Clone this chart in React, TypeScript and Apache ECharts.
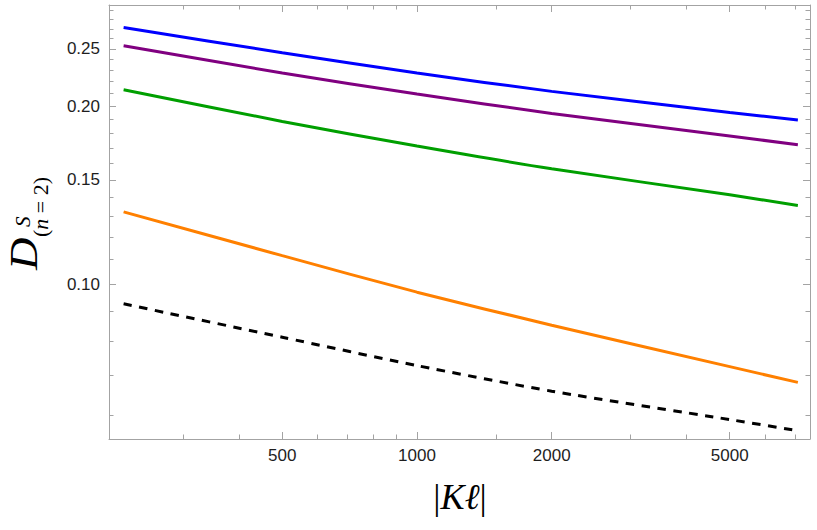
import React, { useEffect, useRef } from "react";
import * as echarts from "echarts";

// |K l| sample positions (log axis) and D^S_(n=2) values
const xValues = [221, 500, 1000, 2000, 5000, 7100];
const blueValues = [0.2717, 0.2462, 0.2275, 0.2118, 0.1951, 0.1894];
const purpleValues = [0.253, 0.2275, 0.2096, 0.1944, 0.178, 0.1721];
const greenValues = [0.2132, 0.1884, 0.1712, 0.1567, 0.1416, 0.1358];
const orangeValues = [0.1325, 0.1117, 0.0969, 0.0852, 0.0725, 0.0682];
const blackDashedValues = [0.0926, 0.0813, 0.0728, 0.0659, 0.059, 0.0565];

const xMajorTicks = [500, 1000, 2000, 5000];
const xMinorTicks = [300, 400, 600, 700, 800, 900, 1500, 3000, 4000, 6000, 7000];
const yMajorTicks = [0.1, 0.15, 0.2, 0.25];
const yMinorTicks = [
  0.06, 0.07, 0.08, 0.09, 0.11, 0.12, 0.13, 0.14, 0.16, 0.17, 0.18, 0.19,
  0.21, 0.22, 0.23, 0.24, 0.26, 0.27, 0.28, 0.29,
];
const xRange = [205, 7557];
const yRange = [0.0547, 0.2965];

const FRAME = "#a3a3a3";
const LABEL = "#1e1e1e";
const SANS = '"Liberation Sans", Arial, sans-serif';
const SERIF = '"Liberation Serif", "DejaVu Serif", serif';

function xAxisDef(position: string, ticks: number[], len: number, line: boolean, label: boolean) {
  return {
    type: "log",
    logBase: 10,
    min: xRange[0],
    max: xRange[1],
    position,
    axisLine: { show: line, lineStyle: { color: FRAME, width: 1 } },
    axisTick: { show: true, inside: true, length: len, customValues: ticks, lineStyle: { color: FRAME, width: 1 } },
    axisLabel: label
      ? {
          show: true,
          customValues: ticks,
          margin: 8,
          color: LABEL,
          fontFamily: SANS,
          fontSize: 17,
          formatter: (v: number) => String(Math.round(v)),
        }
      : { show: false },
    splitLine: { show: false },
    minorTick: { show: false },
    minorSplitLine: { show: false },
  };
}

function yAxisDef(position: string, ticks: number[], len: number, line: boolean, label: boolean) {
  return {
    type: "log",
    logBase: 10,
    min: yRange[0],
    max: yRange[1],
    position,
    axisLine: { show: line, lineStyle: { color: FRAME, width: 1 } },
    axisTick: { show: true, inside: true, length: len, customValues: ticks, lineStyle: { color: FRAME, width: 1 } },
    axisLabel: label
      ? {
          show: true,
          customValues: ticks,
          margin: 9,
          color: LABEL,
          fontFamily: SANS,
          fontSize: 17,
          formatter: (v: number) => v.toFixed(2),
        }
      : { show: false },
    splitLine: { show: false },
    minorTick: { show: false },
    minorSplitLine: { show: false },
  };
}

function lineSeries(name: string, vals: number[], color: string, dashed: boolean) {
  return {
    name,
    type: "line",
    xAxisIndex: 0,
    yAxisIndex: 0,
    data: xValues.map((x, i) => [x, vals[i]]),
    symbol: "none",
    showSymbol: false,
    smooth: 0.25,
    lineStyle: { color, width: 3, type: dashed ? [8.5, 7.5] : "solid", cap: "butt" },
    silent: true,
  };
}

export default function App() {
  const ref = useRef<HTMLDivElement>(null);
  useEffect(() => {
    const chart = echarts.init(ref.current!, null, { renderer: "svg" });
    const option: any = {
      animation: false,
      backgroundColor: "#ffffff",
      grid: { left: 109, top: 5, right: 7, bottom: 91, containLabel: false },
      xAxis: [
        xAxisDef("bottom", xMajorTicks, 7, true, true),
        xAxisDef("bottom", xMinorTicks, 4.5, false, false),
        xAxisDef("top", xMajorTicks, 7, true, false),
        xAxisDef("top", xMinorTicks, 4.5, false, false),
      ],
      yAxis: [
        yAxisDef("left", yMajorTicks, 7, true, true),
        yAxisDef("left", yMinorTicks, 4.5, false, false),
        yAxisDef("right", yMajorTicks, 7, true, false),
        yAxisDef("right", yMinorTicks, 4.5, false, false),
      ],
      series: [
        lineSeries("blue", blueValues, "#0000ff", false),
        lineSeries("purple", purpleValues, "#800080", false),
        lineSeries("green", greenValues, "#009f00", false),
        lineSeries("orange", orangeValues, "#ff8000", false),
        lineSeries("black", blackDashedValues, "#000000", true),
      ],
      graphic: [
        {
          type: "group",
          x: 37,
          y: 270,
          rotation: Math.PI / 2,
          silent: true,
          children: [
            {
              type: "text",
              x: 0,
              y: -0.3375 * 40,
              scaleX: 1.12,
              style: { text: "D", font: `italic 40px ${SERIF}`, fill: "#000", align: "left", verticalAlign: "middle" },
            },
            {
              type: "text",
              x: 43,
              y: -7 - 0.3375 * 21,
              style: { text: "S", font: `italic 21px ${SERIF}`, fill: "#000", align: "left", verticalAlign: "middle" },
            },
            {
              type: "text",
              x: 33,
              y: 11 - 0.3375 * 22,
              style: {
                text: "{p|(}{n|n}{p| = 2)}",
                fill: "#000",
                align: "left",
                verticalAlign: "middle",
                rich: {
                  p: { fontFamily: SERIF, fontSize: 22, fontStyle: "normal", fill: "#000" },
                  n: { fontFamily: SERIF, fontSize: 22, fontStyle: "italic", fill: "#000" },
                },
              },
            },
          ],
        },
        {
          type: "text",
          x: 460,
          y: 497,
          silent: true,
          style: {
            text: "{b||}{k|K}{l|ℓ}{b||}",
            align: "center",
            verticalAlign: "middle",
            fill: "#000",
            rich: {
              b: { fontFamily: SERIF, fontSize: 36, fontStyle: "normal", fill: "#000" },
              k: { fontFamily: SERIF, fontSize: 36, fontStyle: "italic", fill: "#000" },
              l: { fontFamily: SERIF, fontSize: 36, fontStyle: "italic", fill: "#000" },
            },
          },
        },
      ],
    };
    chart.setOption(option);
    return () => chart.dispose();
  }, []);
  return (
    <div
      ref={ref}
      style={{ position: "absolute", left: 0, top: 0, width: 817, height: 530, background: "#fff" }}
    />
  );
}
